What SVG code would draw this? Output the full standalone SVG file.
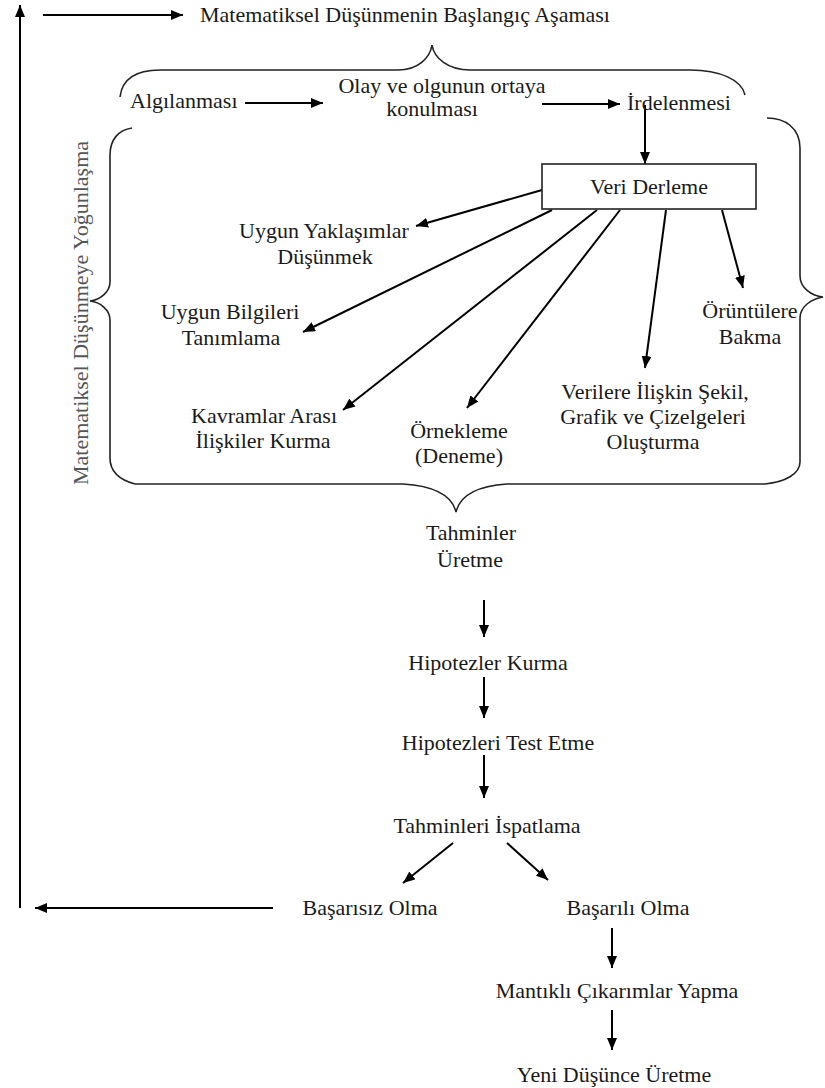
<svg xmlns="http://www.w3.org/2000/svg" width="825" height="1088" viewBox="0 0 825 1088">
<defs>
<marker id="ah" viewBox="0 0 12 10" refX="12" refY="5" markerWidth="12" markerHeight="10" markerUnits="userSpaceOnUse" orient="auto">
<path d="M0,0 L12,5 L0,10 z" fill="#000"/>
</marker>
</defs>
<style>
text{font-family:"Liberation Serif","Times New Roman",serif;font-size:22px;fill:#1a1a1a}
.m{text-anchor:middle}
.c{fill:none;stroke:#000;stroke-width:2;marker-end:url(#ah)}
.b{fill:none;stroke:#222;stroke-width:1.6}
.v{fill:#555}
</style>
<rect width="825" height="1088" fill="#fff"/>
<g id="braces">
<path class="b" d="M120,97 C122,80 135,70 160,70 L398,70 C418,70 430,58 432,45 C434,58 448,70 470,70 L690,70 C720,70 742,80 745,95"/>
<path class="b" d="M132,128 C118,130 110,140 110,155 L110,282 C110,292 100,300 90,301 C100,302 110,310 110,320 L110,458 C110,472 120,480 135,484"/>
<path class="b" d="M767,118 C785,118 800,128 800,148 L800,276 C800,288 812,296 823,297 C812,299 800,306 800,318 L800,462 C800,474 785,482 765,484"/>
<path class="b" d="M135,484 L403,484 C435,486 452,495 456,512 C460,495 477,486 507,484 L765,484"/>
</g>
<g id="connectors">
<path class="c" d="M20,908 L20,5"/>
<path class="c" d="M43,15 L183,15"/>
<path class="c" d="M245,103 L323,103"/>
<path class="c" d="M542,104 L620,104"/>
<path class="c" d="M645,105 L645,164"/>
<path class="c" d="M542,190 L416,226"/>
<path class="c" d="M552,210 L303,332"/>
<path class="c" d="M597,210 L343,410"/>
<path class="c" d="M620,210 L467,408"/>
<path class="c" d="M666,210 L645,368"/>
<path class="c" d="M722,210 L743,288"/>
<path class="c" d="M484,600 L484,637"/>
<path class="c" d="M484,677 L484,718"/>
<path class="c" d="M484,755 L484,798"/>
<path class="c" d="M453,843 L403,883"/>
<path class="c" d="M507,843 L548,880"/>
<path class="c" d="M273,908 L35,908"/>
<path class="c" d="M612,928 L612,968"/>
<path class="c" d="M612,1010 L612,1050"/>
</g>
<g id="n-title"><text x="200" y="22">Matematiksel Düşünmenin Başlangıç Aşaması</text></g>
<g id="n-vertical"><text class="m v" transform="translate(88,313) rotate(-90)" x="0" y="0">Matematiksel Düşünmeye Yoğunlaşma</text></g>
<g id="n-algilanmasi"><text x="130" y="108">Algılanması</text></g>
<g id="n-olay"><text class="m" x="442" y="93">Olay ve olgunun ortaya</text><text class="m" x="432" y="116">konulması</text></g>
<g id="n-irdelenmesi"><text x="627" y="110">İrdelenmesi</text></g>
<g id="n-veri"><rect x="542" y="164" width="214" height="45" fill="#fff" stroke="#222" stroke-width="1.6"/><text class="m" x="649" y="194">Veri Derleme</text></g>
<g id="n-yaklasim"><text class="m" x="324" y="238">Uygun Yaklaşımlar</text><text class="m" x="325" y="264">Düşünmek</text></g>
<g id="n-bilgi"><text class="m" x="230" y="319">Uygun Bilgileri</text><text class="m" x="231" y="345">Tanımlama</text></g>
<g id="n-kavram"><text class="m" x="264" y="423">Kavramlar Arası</text><text class="m" x="263" y="448">İlişkiler Kurma</text></g>
<g id="n-ornek"><text class="m" x="459" y="438">Örnekleme</text><text class="m" x="459" y="463">(Deneme)</text></g>
<g id="n-verilere"><text class="m" x="655" y="399">Verilere İlişkin Şekil,</text><text class="m" x="653" y="424">Grafik ve Çizelgeleri</text><text class="m" x="653" y="449">Oluşturma</text></g>
<g id="n-oruntu"><text class="m" x="750" y="318">Örüntülere</text><text class="m" x="750" y="344">Bakma</text></g>
<g id="n-tahmin"><text class="m" x="471" y="540">Tahminler</text><text class="m" x="470" y="567">Üretme</text></g>
<g id="n-hipotez"><text class="m" x="488" y="670">Hipotezler Kurma</text></g>
<g id="n-test"><text class="m" x="498" y="750">Hipotezleri Test Etme</text></g>
<g id="n-ispat"><text class="m" x="487" y="833">Tahminleri İspatlama</text></g>
<g id="n-basarisiz"><text class="m" x="370" y="915">Başarısız Olma</text></g>
<g id="n-basarili"><text class="m" x="628" y="915">Başarılı Olma</text></g>
<g id="n-mantikli"><text class="m" x="617" y="998">Mantıklı Çıkarımlar Yapma</text></g>
<g id="n-yeni"><text class="m" x="614" y="1082">Yeni Düşünce Üretme</text></g>
</svg>
